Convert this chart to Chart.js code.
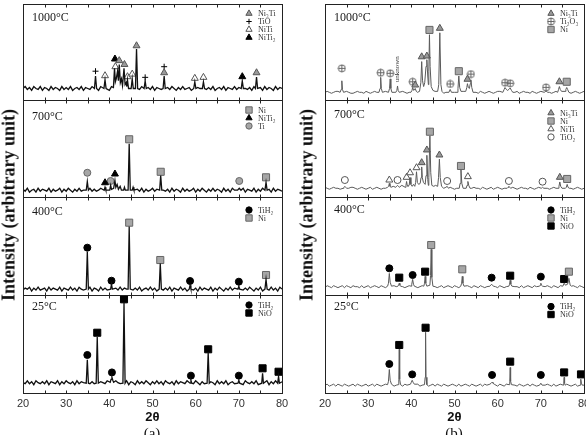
<!DOCTYPE html>
<html>
<head>
<meta charset="utf-8">
<script src="https://cdn.jsdelivr.net/npm/chart.js@4.4.0/dist/chart.umd.min.js"></script>
<style>
body{margin:0;background:#fff}
#wrap{position:relative;width:586px;height:435px;overflow:hidden;background:#fff}
#wrap canvas{position:absolute}
.ylab{position:absolute;font:bold 18px "Liberation Serif",serif;white-space:nowrap;transform:translate(-50%,-50%) rotate(-90deg);color:#111}
.cap{position:absolute;font:15px "Liberation Serif",serif;transform:translate(-50%,-50%);color:#111}
</style>
</head>
<body>
<div id="wrap"></div>
<script>
// baseline noise is sampled every 0.5 deg from 20 to 80 (121 values)
var a1000Base = 12;
var a1000Noise = [0,2,-1,1,-2,2,0,-1,2,-2,1,0,-2,2,-1,1,0,-2,2,-1,
  1,-1,2,-2,0,1,-1,2,-2,1,0,-1,2,-1,1,-2,2,0,-1,1,
  -2,2,-1,0,1,-2,2,-1,1,0,-2,2,-1,1,-1,2,-2,0,1,-1,
  2,-2,1,0,-1,2,-2,1,-1,2,0,-2,1,-1,2,-1,0,1,-2,2,
  -1,1,0,-2,2,-1,1,-1,2,-2,0,1,-1,2,-2,1,0,-1,2,-1,
  1,-2,2,0,-1,1,-2,2,-1,0,1,-2,2,-1,1,0,-2,2,-1,1,0];
var a1000Peaks = [[36.55,12],[36.8,25],[37.05,12],
  [38.75,12],[39.0,21],[39.25,12],
  [40.95,13],[41.2,33],[41.4,19],[41.6,22],[41.9,30],[42.1,20],[42.3,37],[42.55,18],[42.8,22],[43.05,15],
  [43.4,33],[43.65,16],[43.9,18],[44.05,14],[44.2,21],[44.45,12],
  [45.05,12],[45.3,22],[45.55,12],
  [46.05,12],[46.3,53],[46.55,12],
  [48.05,12],[48.3,20],[48.55,12],
  [52.45,12],[52.7,25],[52.95,12],
  [59.55,12],[59.8,19],[60.05,12],
  [61.55,12],[61.8,19],[62.05,12],
  [70.55,12],[70.8,20],[71.05,12],
  [73.85,12],[74.1,24],[74.35,12]];
var a1000Ni3Ti = [[42.3,41],[43.5,37],[46.3,56.5],[52.7,28.4],[74.1,28.4]];
var a1000TiO = [[36.8,30],[48.3,23.6],[52.7,34.7]];
var a1000NiTi = [[39.0,25.3],[41.4,34.7],[44.2,24.3],[45.3,27],[59.8,22.6],[61.8,23.6]];
var a1000NiTi2 = [[41.3,42.7],[70.8,24.3]];

var a700Base = 7;
var a700Noise = [1,-1,2,-2,0,1,-2,2,-1,1,0,-1,2,-2,1,-1,0,2,-2,1,
  -1,2,0,-2,1,-1,2,-1,0,1,-2,2,-1,1,-1,0,2,-2,1,0,
  -1,2,-2,1,-1,2,0,-1,1,-2,2,-1,0,1,-1,2,-2,1,-1,0,
  2,-1,1,-2,2,0,-1,1,-2,2,-1,1,0,-2,2,-1,1,-1,0,2,
  -2,1,-1,2,0,-2,1,-1,2,-1,1,0,-2,2,-1,1,-2,2,0,-1,
  1,-1,2,-2,1,0,-1,2,-2,1,-1,2,0,-1,1,-2,2,-1,1,0,-1];
var a700Peaks = [[34.65,7],[34.9,16],[35.15,7],
  [38.8,7],[39.0,10],[39.2,7],
  [40.1,7],[40.3,12],[40.5,8],[41.0,9],[41.3,17],[41.5,10],[41.8,13],[42.1,8],[42.5,11],[42.8,7],
  [43.3,7],[43.5,10],[43.7,7],
  [44.35,7],[44.6,55],[44.85,7],
  [45.3,7],[45.5,10],[45.7,7],
  [51.65,7],[51.9,22],[52.15,7],
  [69.7,7],[70.1,9],[70.5,7],
  [76.05,7],[76.3,15],[76.55,7]];
var a700Ni = [[44.6,59.5],[51.9,26],[76.3,20.3]];
var a700NiTi2 = [[39.0,14.7],[41.3,23.7]];
var a700Ti = [[34.9,25],[40.3,16.5],[70.1,16.5]];

var a400Base = 6;
var a400Noise = [-1,1,0,2,-2,1,-1,2,-1,0,1,-2,2,-1,1,0,-1,2,-2,1,
  0,-1,2,-1,1,-2,2,0,-1,1,-1,2,-2,1,0,-2,2,-1,1,-1,
  2,0,-2,1,-1,2,-1,1,0,-2,2,-1,1,-1,2,-2,0,1,-1,2,
  -1,1,-2,2,0,-1,1,-1,2,-2,1,0,-1,2,-1,1,-2,2,0,-1,
  1,-2,2,-1,1,0,-1,2,-2,1,-1,2,0,-2,1,-1,2,-1,1,0,
  -2,2,-1,1,-1,2,0,-2,1,-1,2,-2,1,0,-1,2,-1,1,-2,2,0];
var a400Peaks = [[34.65,6],[34.9,44],[35.15,6],
  [40.3,6],[40.5,11],[40.7,6],
  [44.35,6],[44.6,70],[44.85,6],
  [51.55,6],[51.8,32],[52.05,6],
  [58.5,6],[58.7,10],[58.9,6],
  [69.8,6],[70.0,9],[70.2,6],
  [76.05,6],[76.3,16],[76.55,6]];
var a400TiH2 = [[34.9,48.3],[40.5,14.6],[58.7,14.3],[70.0,13.6]];
var a400Ni = [[44.6,73.8],[51.8,35.7],[76.3,20.4]];

var a25Base = 10.5;
var a25Noise = [0,-1,2,-1,1,-2,2,0,-1,1,-1,2,-2,1,0,-1,2,-2,1,-1,
  2,0,-1,1,-2,2,-1,1,0,-2,2,-1,1,-1,2,-2,1,0,-1,2,
  -1,1,-2,2,0,-1,1,-1,2,-2,1,0,-2,2,-1,1,-1,2,0,-2,
  1,-1,2,-1,1,-2,2,0,-1,1,-2,2,-1,1,0,-1,2,-2,1,-1,
  2,0,-2,1,-1,2,-1,1,0,-2,2,-1,1,-1,2,-2,0,1,-1,2,
  -1,1,-2,2,0,-1,1,-1,2,-2,1,0,-1,2,-2,1,-1,2,0,-1,1];
var a25Peaks = [[34.65,10],[34.9,34],[35.15,10],
  [36.95,10],[37.2,57],[37.45,10],
  [40.2,11],[40.4,14],[40.6,16],[40.8,13],[41.0,11],
  [43.15,10],[43.4,92],[43.65,10],
  [58.7,10],[58.9,13],[59.1,10],
  [62.65,10],[62.9,41],[63.15,10],
  [69.8,10],[70.0,13],[70.2,10],
  [75.3,10],[75.5,20],[75.7,10],
  [79.0,10],[79.2,17],[79.4,10]];
var a25TiH2 = [[34.9,38.8],[40.6,21],[58.9,17.7],[70.0,17.7]];
var a25NiO = [[37.2,61.5],[43.4,95.6],[62.9,44.6],[75.5,25.2],[79.2,21.7]];

var b1000Base = 8;
var b1000Noise = [0,1,0,-1,0,1,1,0,-1,0,1,0,-1,-1,0,1,0,0,-1,1,
  0,-1,0,1,0,-1,0,1,1,0,-1,0,0,1,-1,0,1,0,-1,0,
  1,0,-1,0,1,1,0,-1,0,1,0,-1,0,0,1,-1,0,1,0,-1,
  0,1,0,-1,1,0,-1,0,1,0,0,-1,1,0,-1,0,1,0,-1,0,
  1,1,0,-1,0,1,0,-1,0,1,-1,0,1,0,0,-1,1,0,-1,0,
  1,0,-1,1,0,-1,0,1,0,-1,0,1,1,0,-1,0,1,0,-1,0,1];
var b1000Peaks = [[23.5,8],[23.75,11],[23.9,20],[24.05,11],[24.3,8],
  [32.5,8],[32.75,12],[32.9,23.6],[33.05,12],[33.3,8],
  [34.7,8],[34.95,12],[35.1,22],[35.25,12],[35.5,8],
  [36.4,8],[36.65,10],[36.8,14.6],[36.95,10],[37.2,8],
  [39.9,8],[40.15,10],[40.3,13],[40.55,10],[40.9,12],[41.15,9],[41.4,8],
  [41.9,9],[42.2,18],[42.4,40],[42.6,20],[42.85,14],[43.1,18],[43.4,35],[43.6,42],[43.8,25],[43.95,16],
  [44.05,30],[44.2,68],[44.35,35],[44.6,14],[45.0,10],[45.5,9],
  [46.1,9],[46.35,16],[46.6,70],[46.85,16],[47.1,9],
  [48.7,8],[49.0,11],[49.3,8],
  [50.6,8],[50.8,12],[51.0,25],[51.2,13],[51.5,9],
  [52.6,9],[52.85,13],[53.0,17],[53.2,13],[53.45,12],[53.65,17],[53.8,21],[54.0,13],[54.3,8],
  [61.2,8],[61.5,11],[61.7,13],[62.0,11],[62.3,10],[62.6,11],[62.9,12.5],[63.2,10],[63.5,8],
  [70.8,8],[71.2,9.5],[71.6,8],
  [73.9,8],[74.1,11],[74.3,14],[74.5,11],[74.8,9],
  [75.6,9],[75.8,11],[76.0,13],[76.2,11],[76.5,8]];
var b1000Ni3Ti = [[40.9,15.6],[42.4,45],[43.6,45.8],[46.6,74.7],[53.0,21.6],[74.3,19]];
var b1000Ti2O3 = [[23.9,33],[32.9,28.4],[35.1,27.8],[40.3,19],[49.0,16.7],[53.8,27],[61.7,18],[62.9,17.4],[71.2,13.2]];
var b1000Ni = [[44.2,73],[51.0,30],[76.0,19]];

var b700Base = 9;
var b700Noise = [1,0,-1,0,1,0,0,-1,1,0,-1,0,1,1,0,-1,0,1,0,-1,
  0,1,-1,0,1,0,-1,0,0,1,0,-1,1,0,-1,0,1,0,0,-1,
  1,0,-1,1,0,-1,0,1,0,-1,0,1,0,-1,1,0,0,-1,1,0,
  -1,0,1,0,-1,1,0,-1,0,1,0,0,-1,1,0,-1,0,1,-1,0,
  1,0,-1,0,1,0,-1,1,0,-1,0,1,0,0,-1,1,0,-1,0,1,
  0,-1,1,0,-1,0,1,0,-1,1,0,-1,0,1,0,-1,0,1,0,-1,0];
var b700Peaks = [[24.2,9],[24.4,10],[24.6,11],[24.8,10],[25.0,9],
  [34.5,10],[34.75,11],[34.9,14],[35.05,11],[35.3,10],[35.8,11],
  [36.4,10],[36.6,11],[36.8,12],[37.0,11],[37.2,10],[37.8,12],
  [38.6,10],[38.75,12],[38.9,16],[39.05,12],[39.2,11],
  [39.5,12],[39.7,20],[39.9,13],[40.2,11],[40.5,13],
  [40.8,11],[41.0,15],[41.2,26],[41.4,15],[41.7,13],
  [42.05,14],[42.25,20],[42.4,31],[42.55,20],[42.8,15],
  [43.2,13],[43.4,22],[43.6,43],[43.8,18],[43.95,12],
  [44.05,20],[44.3,63],[44.5,25],[44.75,12],[45.2,11],[45.6,12],
  [46.1,11],[46.3,20],[46.5,39],[46.7,20],[47.0,11],
  [48.0,10],[48.3,11],[48.6,9],
  [51.1,9],[51.3,14],[51.5,28],[51.7,14],[52.0,9],
  [52.7,9],[52.9,12],[53.1,16],[53.3,12],[53.6,9],
  [62.2,9],[62.4,10],[62.6,11],[62.8,10],[63.0,9],
  [70.1,9],[70.4,10],[70.7,9],
  [74.0,9],[74.2,11],[74.4,15.5],[74.6,11],[74.9,9],
  [75.7,9],[75.9,10],[76.1,13],[76.3,10],[76.6,9]];
var b700Ni3Ti = [[42.4,35.4],[43.6,48.5],[46.5,43.3],[74.4,20.3]];
var b700Ni = [[44.3,67.3],[51.5,32],[76.1,18.6]];
var b700NiTi = [[34.9,17.5],[38.9,20.3],[39.7,25],[41.2,30.2],[53.1,21]];
var b700TiO2 = [[24.6,17.5],[36.8,17.5],[48.3,16.5],[62.6,16.5],[70.4,15.8]];

var b400Base = 8.5;
var b400Noise = [-1,1,0,-1,1,0,-1,0,1,-1,1,0,-1,1,0,0,-1,1,-1,0,
  1,-1,0,1,0,-1,1,0,-1,1,-1,0,1,0,-1,1,0,-1,0,1,
  -1,1,0,-1,0,1,-1,1,0,-1,1,0,-1,0,1,-1,0,1,0,-1,
  1,0,-1,1,-1,0,1,0,-1,1,0,-1,1,0,-1,0,1,-1,1,0,
  -1,1,0,-1,0,1,-1,1,0,0,-1,1,-1,0,1,0,-1,1,0,-1,
  1,-1,0,1,0,-1,1,0,-1,1,-1,0,1,0,-1,1,0,-1,1,0,-1];
var b400Peaks = [[34.5,9],[34.7,12],[34.9,22],[35.1,13],[35.4,9],
  [36.9,9],[37.05,10],[37.2,12],[37.35,10],[37.5,9],
  [39.95,9],[40.1,11],[40.3,16],[40.5,11],[40.7,9],
  [42.9,9],[43.05,12],[43.2,19],[43.35,12],[43.6,9],
  [44.3,10],[44.45,20],[44.6,46.6],[44.75,18],[45.0,9],
  [51.45,9],[51.65,12],[51.8,19],[51.95,12],[52.2,9],
  [58.2,9],[58.4,10],[58.6,11],[58.8,10],[59.0,9],
  [62.6,9],[62.75,11],[62.9,15],[63.05,11],[63.3,9],
  [69.7,9],[69.85,10],[70.0,12],[70.15,10],[70.4,9],
  [75.1,9],[75.4,12],[75.7,10],[76.2,11],[76.5,17],[76.8,10],[77.1,9]];
var b400TiH2 = [[34.9,27.2],[40.3,20.4],[58.6,17.7],[70.0,18.7]];
var b400Ni = [[44.6,51],[51.8,26.2],[76.5,23.8]];
var b400NiO = [[37.2,17.7],[43.2,23.8],[62.9,19.7],[75.4,16.3]];

var b25Base = 8;
var b25Noise = [0,1,-1,0,1,-1,1,0,-1,1,0,-1,0,1,-1,1,0,-1,0,1,
  -1,0,1,-1,1,0,-1,0,1,0,-1,1,-1,0,1,0,-1,1,0,-1,
  1,0,-1,1,-1,0,1,0,-1,0,1,-1,1,0,-1,1,0,-1,0,1,
  0,-1,1,-1,0,1,0,-1,1,0,-1,0,1,-1,1,0,-1,0,1,0,
  -1,1,0,-1,1,-1,0,1,0,-1,1,0,-1,0,1,-1,1,0,-1,0,
  1,-1,0,1,0,-1,1,-1,0,1,0,-1,1,0,-1,0,1,-1,0,1,0];
var b25Peaks = [[34.5,8.5],[34.7,12],[34.9,24],[35.1,13],[35.4,9],
  [36.95,8.5],[37.1,14],[37.2,44.6],[37.3,14],[37.5,8.5],
  [39.8,9],[40.0,11],[40.2,13],[40.4,11],[40.7,9],
  [43.05,8.5],[43.2,16],[43.3,62],[43.4,16],[43.6,8.5],
  [58.2,9],[58.5,10],[58.7,11],[58.9,10],[59.2,9],
  [62.65,8.5],[62.8,12],[62.9,26],[63.0,12],[63.2,8.5],
  [69.7,8],[70.0,10],[70.3,8],
  [75.2,8],[75.3,10],[75.4,16],[75.5,10],[75.65,8],
  [79.1,8],[79.2,10],[79.3,14],[79.4,10],[79.6,8]];
var b25TiH2 = [[34.9,29.6],[40.2,19],[58.7,18.4],[70.0,18.4]];
var b25NiO = [[37.2,49],[43.3,66.6],[62.9,32],[75.4,21],[79.3,19]];

var names = {Ni3Ti:'Ni₃Ti', TiO:'TiO', NiTi:'NiTi', NiTi2:'NiTi₂', Ni:'Ni', Ti:'Ti',
  TiH2:'TiH₂', NiO:'NiO', Ti2O3:'Ti₂O₃', TiO2:'TiO₂'};

function oplus(r, col){
  var s = Math.ceil(r * 2 + 2);
  var c = document.createElement('canvas');
  c.width = s; c.height = s;
  var g = c.getContext('2d');
  g.strokeStyle = col; g.lineWidth = 1;
  g.beginPath();
  g.arc(s / 2, s / 2, r, 0, Math.PI * 2);
  g.moveTo(s / 2 - r, s / 2); g.lineTo(s / 2 + r, s / 2);
  g.moveTo(s / 2, s / 2 - r); g.lineTo(s / 2, s / 2 + r);
  g.stroke();
  return c;
}

var sty = {
  Ni3Ti: {ps:'triangle', r:4, bg:'#9a9a9a', bc:'#555'},
  NiTi:  {ps:'triangle', r:4, bg:'#fff', bc:'#555'},
  NiTi2: {ps:'triangle', r:4, bg:'#000', bc:'#000'},
  TiO:   {ps:'cross', r:3, bg:'#000', bc:'#000'},
  Ni:    {ps:'rect', r:5, bg:'#a6a6a6', bc:'#666'},
  Ti:    {ps:'circle', r:3.5, bg:'#a6a6a6', bc:'#666'},
  TiH2:  {ps:'circle', r:3.5, bg:'#000', bc:'#000'},
  NiO:   {ps:'rect', r:5, bg:'#000', bc:'#000'},
  Ti2O3: {ps:oplus(3.5, '#666'), r:4, bg:'#fff', bc:'#666'},
  TiO2:  {ps:'circle', r:3.5, bg:'#fff', bc:'#555'}
};

var L = 23, R = 325, W = 259;
var tops = [4, 100, 197, 295, 393];
var dark = '#111', grey = '#5a5a5a';

var panels = [
  {x:L, row:0, temp:'1000°C', tY:14, legY:9.5, base:a1000Base, noise:a1000Noise, peaks:a1000Peaks, color:dark,
   marks:[['Ni3Ti',a1000Ni3Ti],['TiO',a1000TiO],['NiTi',a1000NiTi],['NiTi2',a1000NiTi2]]},
  {x:L, row:1, temp:'700°C', tY:16.5, legY:10, base:a700Base, noise:a700Noise, peaks:a700Peaks, color:dark,
   marks:[['Ni',a700Ni],['NiTi2',a700NiTi2],['Ti',a700Ti]]},
  {x:L, row:2, temp:'400°C', tY:14.5, legY:13, base:a400Base, noise:a400Noise, peaks:a400Peaks, color:dark,
   marks:[['TiH2',a400TiH2],['Ni',a400Ni]]},
  {x:L, row:3, temp:'25°C', tY:12, legY:10, base:a25Base, noise:a25Noise, peaks:a25Peaks, color:dark,
   marks:[['TiH2',a25TiH2],['NiO',a25NiO]]},
  {x:R, row:0, temp:'1000°C', tY:13.5, legY:9.5, base:b1000Base, noise:b1000Noise, peaks:b1000Peaks, color:grey,
   marks:[['Ni3Ti',b1000Ni3Ti],['Ti2O3',b1000Ti2O3],['Ni',b1000Ni]],
   notes:[{x:36.8, y:32, text:'unknown'}]},
  {x:R, row:1, temp:'700°C', tY:15, legY:13, base:b700Base, noise:b700Noise, peaks:b700Peaks, color:grey,
   marks:[['Ni3Ti',b700Ni3Ti],['Ni',b700Ni],['NiTi',b700NiTi],['TiO2',b700TiO2]]},
  {x:R, row:2, temp:'400°C', tY:13, legY:13, base:b400Base, noise:b400Noise, peaks:b400Peaks, color:grey,
   marks:[['TiH2',b400TiH2],['Ni',b400Ni],['NiO',b400NiO]]},
  {x:R, row:3, temp:'25°C', tY:12, legY:11.5, base:b25Base, noise:b25Noise, peaks:b25Peaks, color:grey,
   marks:[['TiH2',b25TiH2],['NiO',b25NiO]]}
];

function trace(base, noise, peaks){
  var pts = [];
  noise.forEach(function(n, i){
    var x = 20 + i * 0.5;
    if (peaks.some(function(p){ return Math.abs(p[0] - x) < 0.3; })) return;
    pts.push({x:x, y:base + n});
  });
  peaks.forEach(function(p){ pts.push({x:p[0], y:p[1]}); });
  pts.sort(function(a, b){ return a.x - b.x; });
  return pts;
}

function drawMark(ctx, s, x, y){
  ctx.fillStyle = s.bg; ctx.strokeStyle = s.bc; ctx.lineWidth = 1;
  Chart.helpers.drawPoint(ctx, {pointStyle:s.ps, radius:s.r * 0.9, rotation:0, borderWidth:1}, x, y);
}

var frame = {
  id:'frame',
  afterDatasetsDraw: function(chart, args, opts){
    var p = opts.panel, ctx = chart.ctx, a = chart.chartArea, xs = chart.scales.x, ys = chart.scales.y;
    ctx.save();
    ctx.strokeStyle = '#222'; ctx.lineWidth = 1;
    var l = Math.round(a.left) + 0.5, t = Math.round(a.top) + 0.5;
    var w = Math.round(a.width), h = Math.round(a.height);
    ctx.strokeRect(l, t, w, h);
    ctx.beginPath();
    for (var v = 25; v < 80; v += 5){
      var px = Math.round(xs.getPixelForValue(v)) + 0.5;
      ctx.moveTo(px, t + h); ctx.lineTo(px, t + h - 3);
      ctx.moveTo(px, t); ctx.lineTo(px, t + 3);
    }
    ctx.stroke();
    ctx.fillStyle = '#1a1a1a';
    ctx.font = '12px "Liberation Serif", serif';
    ctx.textBaseline = 'middle';
    ctx.fillText(p.temp, a.left + 9, a.top + p.tY);
    ctx.font = '8px "Liberation Serif", serif';
    p.marks.forEach(function(m, i){
      var y = a.top + p.legY + i * 8;
      drawMark(ctx, sty[m[0]], a.right - 33, y);
      ctx.fillStyle = '#333';
      ctx.fillText(names[m[0]], a.right - 24, y + 0.5);
    });
    (p.notes || []).forEach(function(n){
      ctx.save();
      ctx.translate(xs.getPixelForValue(n.x), ys.getPixelForValue(n.y));
      ctx.rotate(-Math.PI / 2);
      ctx.textAlign = 'center';
      ctx.font = '7px "Liberation Serif", serif';
      ctx.fillStyle = '#333';
      ctx.fillText(n.text, 0, 0);
      ctx.restore();
    });
    ctx.restore();
  }
};

var wrap = document.getElementById('wrap');
panels.forEach(function(p){
  var bottom = p.row === 3;
  var boxH = tops[p.row + 1] - tops[p.row];
  var cv = document.createElement('canvas');
  cv.width = W + 24;
  cv.height = boxH + 6 + (bottom ? 42 : 6);
  cv.style.left = (p.x - 12) + 'px';
  cv.style.top = (tops[p.row] - 6) + 'px';
  wrap.appendChild(cv);

  var sets = [{
    data: trace(p.base, p.noise, p.peaks),
    borderColor: p.color, borderWidth: p.color === dark ? 1.3 : 1, pointRadius: 0, tension: 0, fill: false
  }];
  p.marks.forEach(function(m){
    var s = sty[m[0]];
    sets.push({
      data: m[1].map(function(d){ return {x:d[0], y:d[1]}; }),
      showLine: false, clip: false,
      pointStyle: s.ps, pointRadius: s.r, pointBackgroundColor: s.bg,
      pointBorderColor: s.bc, pointBorderWidth: 1, borderColor: s.bc
    });
  });

  var xScale = {
    type: 'linear', min: 20, max: 80, display: bottom,
    grid: {display:false, drawTicks:false}, border: {display:false},
    ticks: {stepSize:10, padding:4, color:'#333', font:{family:'"Liberation Sans", Arial, sans-serif', size:11}},
    title: {display:bottom, text:'2θ', color:'#111', padding:{top:0, bottom:10},
      font:{family:'"Liberation Sans", Arial, sans-serif', size:13, weight:'bold'}}
  };
  if (bottom) xScale.afterFit = function(s){ s.height = 42; };

  new Chart(cv, {
    type: 'line',
    data: {datasets: sets},
    options: {
      responsive: false, animation: false, devicePixelRatio: 1,
      layout: {padding: {left:12, right:12, top:6, bottom: bottom ? 0 : 6}},
      plugins: {legend: {display:false}, tooltip: {enabled:false}, frame: {panel:p}},
      scales: {
        x: xScale,
        y: {min: 0, max: 100, display: false}
      }
    },
    plugins: [frame]
  });
});

function addText(cls, txt, x, y){
  var d = document.createElement('div');
  d.className = cls; d.textContent = txt;
  d.style.left = x + 'px'; d.style.top = y + 'px';
  wrap.appendChild(d);
}
addText('ylab', 'Intensity (arbitrary unit)', 9, 205);
addText('ylab', 'Intensity (arbitrary unit)', 307, 205);
addText('cap', '(a)', 152, 433);
addText('cap', '(b)', 454, 433);
</script>
</body>
</html>
